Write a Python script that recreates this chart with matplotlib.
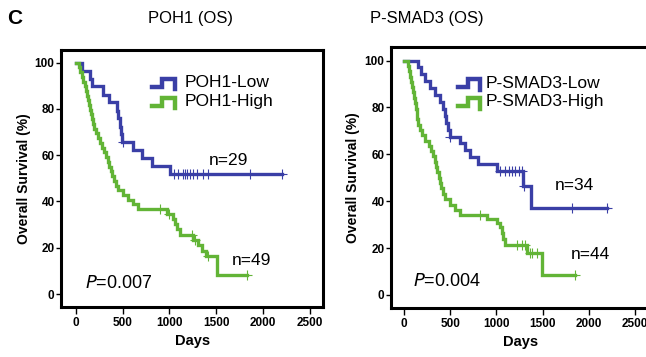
import numpy as np
import matplotlib
matplotlib.use("Agg")
import matplotlib.pyplot as plt

plt.rcParams['font.family'] = ['Liberation Sans', 'DejaVu Sans']

BLUE = '#3a3fa6'
GREEN = '#62b436'

# POH1 (OS)
poh1_low_t = [0, 70, 149, 170, 290, 360, 437, 447, 470, 485, 495, 615, 705, 810, 1005]
poh1_low_s = [100, 96.6, 93.1, 89.7, 86.2, 82.8, 79.3, 75.9, 72.4, 69.0, 65.5, 62.1, 58.6, 55.2, 51.7]
poh1_low_cens = [500, 1050, 1095, 1140, 1165, 1190, 1220, 1250, 1290, 1360, 1415, 1855, 2200]

poh1_high_t = [0, 35, 50, 65, 80, 95, 110, 120, 130, 140, 150, 160, 170, 185, 200, 220, 240,
               260, 280, 305, 325, 345, 360, 375, 390, 405, 425, 455, 500, 560, 610, 660,
               970, 1040, 1060, 1080, 1110, 1256, 1300, 1350, 1390, 1505]
poh1_high_s = [100, 98.0, 95.9, 93.9, 91.8, 89.8, 87.8, 85.7, 83.7, 81.6, 79.6, 77.6, 75.5,
               73.5, 71.4, 69.4, 67.3, 65.3, 63.3, 61.2, 59.2, 57.1, 55.1, 53.1, 51.0, 49.0,
               46.9, 44.9, 42.9, 40.8, 38.8, 36.7, 34.5, 32.3, 30.1, 27.9, 25.7, 23.3, 21.0,
               18.8, 16.5, 8.2]
poh1_high_cens = [900, 1000, 1240, 1270, 1410, 1830]

# P-SMAD3 (OS)
smad_low_t = [0, 149, 185, 221, 276, 330, 384, 420, 439, 457, 475, 493, 600, 656, 710, 800,
              1010, 1285, 1380]
smad_low_s = [100, 97.1, 94.1, 91.2, 88.2, 85.3, 82.4, 79.4, 76.5, 73.5, 70.6, 67.6, 64.7,
              61.8, 58.8, 55.9, 52.9, 46.3, 37.0]
smad_low_cens = [500, 1040, 1095, 1131, 1167, 1203, 1240, 1276, 1300, 1819, 2200]

smad_high_t = [0, 40, 55, 65, 75, 85, 95, 105, 115, 130, 138, 143, 149, 170, 195, 220, 265,
               290, 315, 335, 348, 360, 375, 385, 400, 420, 438, 493, 547, 601, 895, 1003,
               1040, 1058, 1076, 1094, 1330, 1493]
smad_high_s = [100, 97.7, 95.5, 93.2, 90.9, 88.6, 86.4, 84.1, 81.8, 79.5, 77.3, 75.0, 72.7,
               70.5, 68.2, 65.9, 63.6, 61.4, 59.1, 56.8, 54.5, 52.3, 50.0, 47.7, 45.5, 43.2,
               40.9, 38.6, 36.4, 34.1, 32.4, 30.9, 28.9, 26.5, 23.8, 21.3, 17.8, 8.6]
smad_high_cens = [820, 1221, 1276, 1312, 1366, 1384, 1439, 1855]

x_ticks = [0, 500, 1000, 1500, 2000, 2500]
y_ticks = [0, 20, 40, 60, 80, 100]


def km(ax, t, s, cens, color):
    t = np.array(t, float)
    s = np.array(s, float)
    tt = np.append(t, max(cens))
    ss = np.append(s, s[-1])
    ax.step(tt, ss, where='post', color=color, lw=2.4, solid_joinstyle='miter')
    idx = np.searchsorted(t, cens, side='right') - 1
    ax.plot(cens, s[idx], ls='none', marker='+', ms=6.5, mew=0.8, color=color)


def legend_row(ax, x0, x1, xt, y, color, label):
    xm = x0 + 0.45 * (x1 - x0)
    h = 0.016
    ax.plot([x0, xm, xm, x1, x1], [y - h, y - h, y + h, y + h, y - h * 1.6],
            transform=ax.transAxes, color=color, lw=3.2, clip_on=False,
            solid_joinstyle='miter')
    ax.text(xt, y, label, transform=ax.transAxes, fontsize=12.5, va='center', ha='left')


def style(ax, xlim, ylim):
    ax.set_xlim(*xlim)
    ax.set_ylim(*ylim)
    ax.set_xticks(x_ticks)
    ax.set_yticks(y_ticks)
    for sp in ax.spines.values():
        sp.set_linewidth(2.2)
    ax.tick_params(axis='x', length=5, width=1, pad=2, labelsize=8.5)
    ax.tick_params(axis='y', length=3.5, width=1, pad=1.5, labelsize=8.5)
    for lab in ax.get_xticklabels() + ax.get_yticklabels():
        lab.set_fontweight('bold')
    ax.set_xlabel('Days', fontsize=10.5, fontweight='bold', labelpad=4)
    ax.set_ylabel('Overall Survival (%)', fontsize=10, fontweight='bold', labelpad=3)


fig = plt.figure(figsize=(6.46, 3.57), dpi=100)

ax1 = fig.add_axes([0.0952, 0.1401, 0.4048, 0.720])
km(ax1, poh1_low_t, poh1_low_s, poh1_low_cens, BLUE)
km(ax1, poh1_high_t, poh1_high_s, poh1_high_cens, GREEN)
style(ax1, (-151, 2638), (-5.6, 105.5))
legend_row(ax1, 0.346, 0.434, 0.472, 0.872, BLUE, 'POH1-Low')
legend_row(ax1, 0.346, 0.434, 0.472, 0.798, GREEN, 'POH1-High')
ax1.text(1625, 57.6, 'n=29', fontsize=12.5, ha='center', va='center')
ax1.text(1871, 14.7, 'n=49', fontsize=12.5, ha='center', va='center')
ax1.text(462, 4.6, r'$\it{P}$=0.007', fontsize=13, ha='center', va='center')

ax2 = fig.add_axes([0.606, 0.1373, 0.400, 0.731])
km(ax2, smad_low_t, smad_low_s, smad_low_cens, BLUE)
km(ax2, smad_high_t, smad_high_s, smad_high_cens, GREEN)
style(ax2, (-139, 2665), (-5.55, 105.8))
legend_row(ax2, 0.258, 0.342, 0.366, 0.861, BLUE, 'P-SMAD3-Low')
legend_row(ax2, 0.258, 0.342, 0.366, 0.790, GREEN, 'P-SMAD3-High')
ax2.text(1850, 46.9, 'n=34', fontsize=12.5, ha='center', va='center')
ax2.text(2018, 17.1, 'n=44', fontsize=12.5, ha='center', va='center')
ax2.text(464, 5.7, r'$\it{P}$=0.004', fontsize=13, ha='center', va='center')

fig.text(190 / 646, 1 - 19 / 357, 'POH1 (OS)', fontsize=12, ha='center', va='center')
fig.text(427 / 646, 1 - 19 / 357, 'P-SMAD3 (OS)', fontsize=12, ha='center', va='center')
fig.text(15 / 646, 1 - 19 / 357, 'C', fontsize=15, fontweight='bold',
         ha='center', va='center')

fig.savefig('out.png', dpi=100)
